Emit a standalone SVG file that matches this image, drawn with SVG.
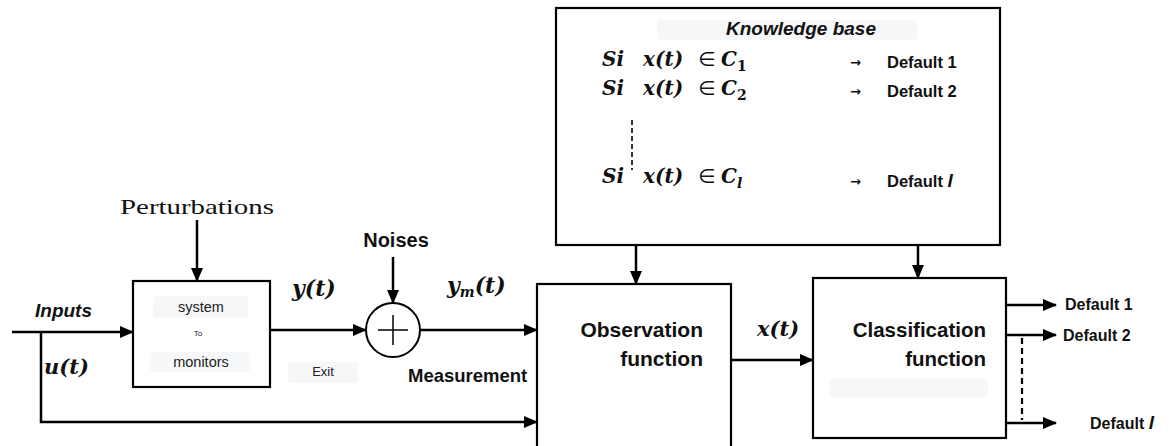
<svg xmlns="http://www.w3.org/2000/svg" width="1176" height="446" viewBox="0 0 1176 446">
<style>
.box{fill:#fff;stroke:#000;stroke-width:2.2}
.ln{fill:none;stroke:#000;stroke-width:2.5}
.bg{fill:#f6f7f9}
.sb{font-family:"Liberation Sans",Arial,sans-serif;font-weight:bold;fill:#111}
.sr{font-family:"Liberation Sans",Arial,sans-serif;fill:#222}
.m{font-family:"DejaVu Serif","Liberation Serif",serif;font-style:italic;font-weight:bold;fill:#111}
.el{font-family:"DejaVu Sans",sans-serif;font-style:normal;font-weight:normal}
.ar{font-family:"DejaVu Sans",sans-serif;font-weight:bold;fill:#111}
</style>
<defs>
<marker id="ah" markerUnits="userSpaceOnUse" markerWidth="14" markerHeight="12" refX="13" refY="6" orient="auto">
<path d="M0,0 L14,6 L0,12 Z" fill="#000"/>
</marker>
</defs>
<rect width="1176" height="446" fill="#fff"/>

<g id="knowledge-base">
<rect class="box" x="556" y="8" width="444" height="237"/>
<rect class="bg" x="657" y="20" width="260" height="20" rx="4"/>
<text class="sb" x="801" y="35" font-size="19" font-style="italic" text-anchor="middle">Knowledge base</text>
<text class="m" font-size="20"><tspan x="602" y="66">Si</tspan><tspan x="643" y="66">x(t)</tspan><tspan class="el" x="698" y="66">∈</tspan><tspan x="721" y="66">C</tspan><tspan font-size="14" font-style="normal" dy="5">1</tspan></text>
<text class="m" font-size="20"><tspan x="602" y="95">Si</tspan><tspan x="643" y="95">x(t)</tspan><tspan class="el" x="698" y="95">∈</tspan><tspan x="721" y="95">C</tspan><tspan font-size="14" font-style="normal" dy="5">2</tspan></text>
<text class="m" font-size="20"><tspan x="602" y="183">Si</tspan><tspan x="643" y="183">x(t)</tspan><tspan class="el" x="698" y="183">∈</tspan><tspan x="721" y="183">C</tspan><tspan font-size="14" dy="5">l</tspan></text>
<line x1="632" y1="120" x2="632" y2="170" stroke="#000" stroke-width="1.6" stroke-dasharray="5,3"/>
<text class="ar" x="850" y="67" font-size="13">→</text>
<text class="sb" x="887" y="68" font-size="16.5">Default 1</text>
<text class="ar" x="850" y="96" font-size="13">→</text>
<text class="sb" x="887" y="97" font-size="16.5">Default 2</text>
<text class="ar" x="850" y="186" font-size="13">→</text>
<text class="sb" x="887" y="187" font-size="16.5">Default <tspan font-style="italic" font-size="19">l</tspan></text>
</g>

<g id="system">
<rect class="box" x="133" y="281" width="137" height="106"/>
<rect class="bg" x="153" y="296" width="95" height="22" rx="4"/>
<rect class="bg" x="150" y="352" width="100" height="20" rx="4"/>
<text class="sr" x="201" y="312" font-size="14.5" text-anchor="middle">system</text>
<text class="sr" x="198" y="336" font-size="8" text-anchor="middle">To</text>
<text class="sr" x="201" y="367" font-size="14.5" text-anchor="middle">monitors</text>
</g>

<g id="sum">
<circle cx="393" cy="330" r="27" fill="#fff" stroke="#000" stroke-width="2"/>
<line x1="378" y1="330" x2="408" y2="330" stroke="#000" stroke-width="1.5"/>
<line x1="393" y1="315" x2="393" y2="345" stroke="#000" stroke-width="1.5"/>
</g>

<g id="observation">
<rect class="box" x="537" y="284" width="194" height="170"/>
<text class="sb" x="703" y="337" font-size="21" text-anchor="end">Observation</text>
<text class="sb" x="703" y="366" font-size="21" text-anchor="end">function</text>
</g>

<g id="classification">
<rect class="box" x="813" y="278" width="193" height="160" stroke-width="2.6"/>
<rect class="bg" x="830" y="378" width="158" height="20" rx="4"/>
<text class="sb" x="986" y="337" font-size="20.5" text-anchor="end">Classification</text>
<text class="sb" x="986" y="366" font-size="20.5" text-anchor="end">function</text>
</g>

<g id="labels">
<text x="120" y="214" font-size="22" style="font-family:'Liberation Serif',serif;fill:#111" textLength="154" lengthAdjust="spacingAndGlyphs">Perturbations</text>
<text class="sb" x="396" y="247" font-size="20" text-anchor="middle">Noises</text>
<text class="sb" x="35" y="317" font-size="19" font-style="italic">Inputs</text>
<text class="m" x="44" y="374" font-size="21">u(t)</text>
<text class="m" x="292" y="296" font-size="22">y(t)</text>
<text class="m" x="447" y="293" font-size="22">y<tspan font-size="14" dy="4">m</tspan><tspan dy="-4">(t)</tspan></text>
<rect class="bg" x="288" y="362" width="70" height="21" rx="4"/>
<text class="sr" x="323" y="376" font-size="13" text-anchor="middle">Exit</text>
<text class="sb" x="408" y="382" font-size="18.5">Measurement</text>
<text class="m" x="757" y="336" font-size="21">x(t)</text>
<text class="sb" x="1065" y="310" font-size="16">Default 1</text>
<text class="sb" x="1063" y="341" font-size="16">Default 2</text>
<text class="sb" x="1090" y="429" font-size="16">Default <tspan font-style="italic" font-size="19">l</tspan></text>
</g>

<g id="connectors">
<line class="ln" x1="12" y1="332" x2="133" y2="332" marker-end="url(#ah)"/>
<polyline class="ln" points="41,332 41,422 537,422" marker-end="url(#ah)"/>
<line class="ln" x1="197" y1="220" x2="197" y2="281" marker-end="url(#ah)"/>
<line class="ln" x1="270" y1="330" x2="366" y2="330" marker-end="url(#ah)"/>
<line class="ln" x1="393" y1="257" x2="393" y2="303" stroke-width="2" marker-end="url(#ah)"/>
<line class="ln" x1="420" y1="330" x2="537" y2="330" stroke-width="2" marker-end="url(#ah)"/>
<line class="ln" x1="636" y1="245" x2="636" y2="284" marker-end="url(#ah)"/>
<line class="ln" x1="918" y1="245" x2="918" y2="278" marker-end="url(#ah)"/>
<line class="ln" x1="731" y1="360" x2="813" y2="360" marker-end="url(#ah)"/>
<line class="ln" x1="1006" y1="305" x2="1056" y2="305" marker-end="url(#ah)"/>
<line class="ln" x1="1006" y1="335" x2="1056" y2="335" marker-end="url(#ah)"/>
<line class="ln" x1="1006" y1="423" x2="1056" y2="423" marker-end="url(#ah)"/>
<line x1="1022" y1="338" x2="1022" y2="420" stroke="#000" stroke-width="2.2" stroke-dasharray="6,4"/>
</g>
</svg>
